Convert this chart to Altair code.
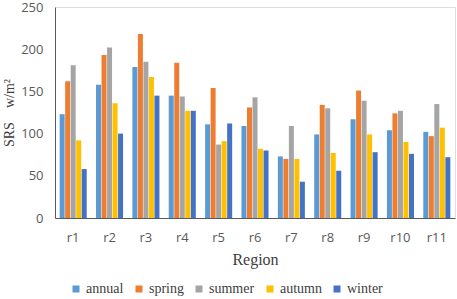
import altair as alt
import pandas as pd

regions = ["r1", "r2", "r3", "r4", "r5", "r6", "r7", "r8", "r9", "r10", "r11"]
series = ["annual", "spring", "summer", "autumn", "winter"]
colors = ["#5B9BD5", "#ED7D31", "#A5A5A5", "#FFC000", "#4472C4"]

annual = [123, 158, 179, 145, 111, 109, 73, 99, 117, 104, 102]
spring = [162, 193, 218, 184, 154, 131, 70, 134, 151, 124, 97]
summer = [181, 202, 185, 144, 87, 143, 109, 130, 139, 127, 135]
autumn = [92, 136, 167, 127, 91, 82, 70, 77, 99, 90, 107]
winter = [58, 100, 145, 127, 112, 80, 43, 56, 78, 76, 72]

vals = {"annual": annual, "spring": spring, "summer": summer, "autumn": autumn, "winter": winter}
rows = []
for s in series:
    for r, v in zip(regions, vals[s]):
        rows.append({"Region": r, "season": s, "value": v})
df = pd.DataFrame(rows)

serif = "Liberation Serif"
sans = "Open Sans"

chart = alt.Chart(df).mark_bar(size=5).encode(
    x=alt.X("Region:N", sort=regions,
            scale=alt.Scale(paddingInner=0.26, paddingOuter=0.13),
            axis=alt.Axis(title="Region", labelAngle=0, ticks=False, domain=True,
                          domainColor="#595959", labelColor="#595959", labelFont=sans,
                          labelFontSize=13, labelPadding=13, titleFont=serif,
                          titleFontSize=16, titleFontWeight="normal", titleColor="#404040",
                          titlePadding=7)),
    xOffset=alt.XOffset("season:N", sort=series, scale=alt.Scale(paddingInner=0.12)),
    y=alt.Y("value:Q", scale=alt.Scale(domain=[0, 250]),
            axis=alt.Axis(title="SRS\u2002\u2002w/m\u00b2", values=[0, 50, 100, 150, 200, 250],
                          grid=False, ticks=False, domainColor="#595959",
                          labelColor="#595959", labelFont=sans, labelFontSize=13,
                          labelPadding=12, titleFont=serif, titleFontSize=14,
                          titleFontWeight="normal", titleColor="#404040", titlePadding=4)),
    color=alt.Color("season:N", sort=series,
                    scale=alt.Scale(domain=series, range=colors),
                    legend=alt.Legend(title=None, orient="none", direction="horizontal",
                                      legendX=14, legendY=275, symbolType="square",
                                      symbolSize=49, symbolStrokeWidth=0, labelFont=serif,
                                      labelFontSize=14, labelColor="#404040",
                                      labelOffset=3, columnPadding=8, padding=0)),
).properties(
    width=400, height=211,
    autosize=alt.AutoSizeParams(type="none"),
    padding={"left": 55, "top": 7, "right": 2, "bottom": 81},
).configure_view(stroke="#595959", strokeWidth=1).configure(background="white")

chart.save("out.html", embed_options={"renderer": "svg", "actions": False})
